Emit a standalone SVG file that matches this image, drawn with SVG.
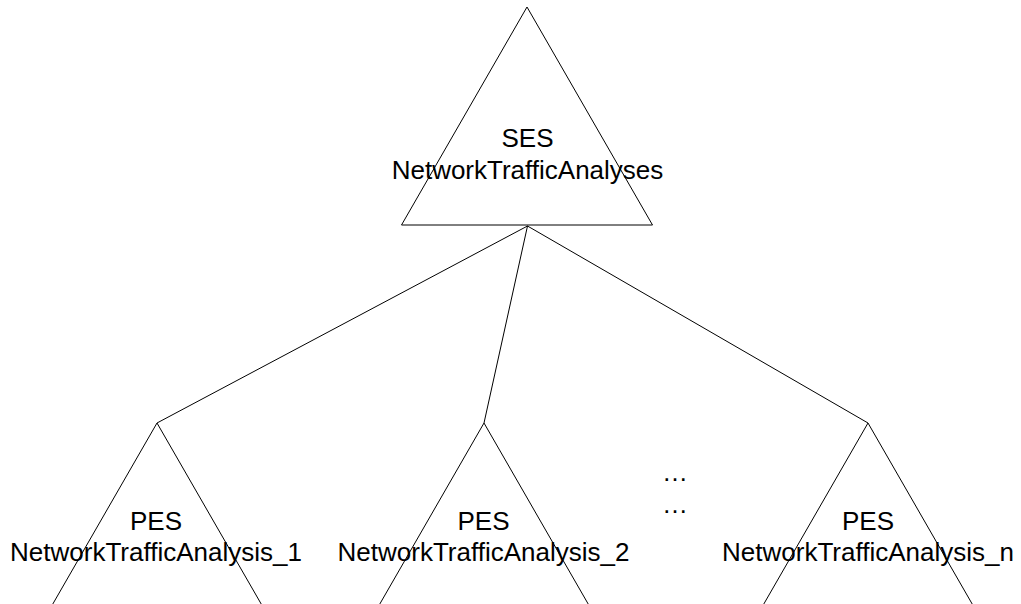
<svg xmlns="http://www.w3.org/2000/svg" width="1021" height="604" viewBox="0 0 1021 604">
  <style>
    .tri { fill: none; stroke: #000; stroke-width: 1; }
    .edge { stroke: #000; stroke-width: 1; fill: none; }
    .lbl { font-family: "Liberation Sans", Arial, sans-serif; font-size: 26px; fill: #000; text-anchor: middle; }
  </style>
  <rect width="1021" height="604" fill="#fff"/>

  <!-- connectors from the SES base to each PES apex -->
  <g id="connectors">
    <line class="edge" x1="527.5" y1="226" x2="157" y2="423"/>
    <line class="edge" x1="527.5" y1="226" x2="484" y2="423"/>
    <line class="edge" x1="527.5" y1="226" x2="868" y2="423"/>
  </g>

  <g id="ses">
    <polygon class="tri" points="527,7 401.5,225 652.5,225"/>
    <text class="lbl" x="527.5" y="147">SES</text>
    <text class="lbl" x="527.5" y="179">NetworkTrafficAnalyses</text>
  </g>

  <g id="pes1">
    <polygon class="tri" points="157,423 31.5,641 282.5,641"/>
    <text class="lbl" x="156" y="530">PES</text>
    <text class="lbl" x="156" y="561">NetworkTrafficAnalysis_1</text>
  </g>

  <g id="pes2">
    <polygon class="tri" points="484,423 358.5,641 609.5,641"/>
    <text class="lbl" x="483.5" y="530">PES</text>
    <text class="lbl" x="483.5" y="561">NetworkTrafficAnalysis_2</text>
  </g>

  <g id="ellipsis">
    <text class="lbl" x="675" y="481">…</text>
    <text class="lbl" x="675" y="513">…</text>
  </g>

  <g id="pesn">
    <polygon class="tri" points="868,423 742.5,641 993.5,641"/>
    <text class="lbl" x="868" y="530">PES</text>
    <text class="lbl" x="868" y="561">NetworkTrafficAnalysis_n</text>
  </g>
</svg>
